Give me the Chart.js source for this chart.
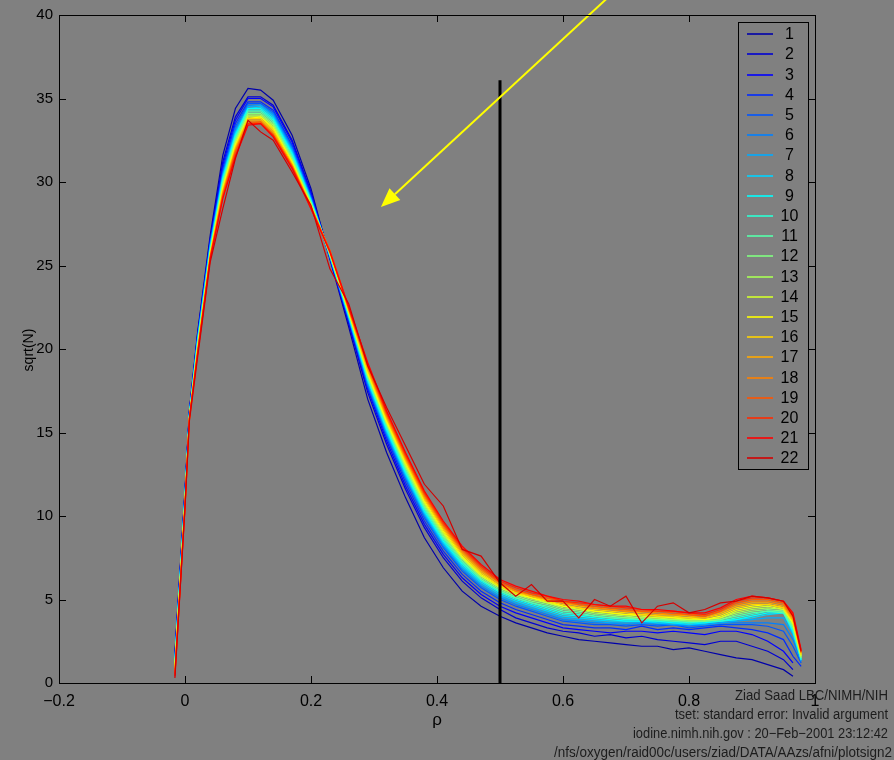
<!DOCTYPE html>
<html>
<head>
<meta charset="utf-8">
<title>sqrt(N) vs rho</title>
<script src="https://cdn.jsdelivr.net/npm/chart.js@4/dist/chart.umd.min.js"></script>
<style>
  html, body { margin: 0; padding: 0; background: #808080; }
  canvas { display: block; }
</style>
</head>
<body>
<canvas id="chart" width="894" height="760"></canvas>
<script>
// rho sample positions shared by every series
const rho = [-0.016, 0, 0.007, 0.02, 0.04, 0.06, 0.08, 0.10, 0.12, 0.14, 0.17, 0.20,
  0.23, 0.26, 0.29, 0.32, 0.35, 0.38, 0.41, 0.44, 0.47, 0.50,
  0.525, 0.55, 0.575, 0.60, 0.625, 0.65, 0.675, 0.70, 0.725, 0.75,
  0.775, 0.80, 0.825, 0.85, 0.875, 0.90, 0.925, 0.95, 0.965, 0.978];

// sqrt(N) per curve
const s01 = [1.8, 11.5, 16.3, 21.0, 26.8, 31.6, 34.4, 35.6, 35.5, 34.9, 32.8, 29.6, 25.4, 21.3, 17.0, 13.8, 11.1, 8.7, 6.9, 5.5, 4.6, 4.0,
  3.6, 3.3, 3.0, 2.8, 2.6, 2.5, 2.4, 2.3, 2.2, 2.2, 2.0, 2.1, 1.9, 1.7, 1.5, 1.4, 1.1, 0.8, 0.4, null];
const s02 = [1.7, 11.5, 16.3, 20.9, 26.6, 31.2, 33.9, 35.1, 35.1, 34.6, 32.5, 29.4, 25.5, 21.5, 17.4, 14.3, 11.6, 9.3, 7.5, 6.1, 5.1, 4.4,
  3.9, 3.6, 3.3, 3.1, 3.0, 2.8, 2.9, 2.7, 2.8, 2.6, 2.5, 2.4, 2.3, 2.5, 2.5, 2.2, 1.9, 1.4, 0.8, null];
const s03 = [1.6, 11.4, 16.2, 20.8, 26.5, 31.0, 33.7, 35.0, 35.0, 34.5, 32.4, 29.3, 25.4, 21.6, 17.6, 14.5, 11.8, 9.5, 7.7, 6.3, 5.3, 4.6,
  4.2, 3.9, 3.6, 3.3, 3.2, 3.1, 3.0, 3.1, 3.1, 3.0, 3.1, 3.0, 2.9, 3.1, 3.1, 2.9, 2.5, 1.9, 1.2, null];
const s04 = [1.5, 11.4, 16.2, 20.7, 26.4, 30.8, 33.5, 34.8, 34.8, 34.3, 32.2, 29.2, 25.5, 21.7, 17.7, 14.7, 12.0, 9.7, 7.9, 6.5, 5.5, 4.8,
  4.4, 4.1, 3.8, 3.5, 3.4, 3.3, 3.3, 3.2, 3.4, 3.2, 3.3, 3.2, 3.3, 3.4, 3.3, 3.2, 3.0, 2.6, 1.6, 1.0];
const s05 = [1.5, 11.3, 16.2, 20.7, 26.3, 30.6, 33.3, 34.7, 34.7, 34.2, 32.1, 29.1, 25.6, 21.8, 17.8, 14.8, 12.2, 9.9, 8.1, 6.7, 5.7, 5.0,
  4.6, 4.3, 4.0, 3.7, 3.6, 3.5, 3.5, 3.4, 3.5, 3.4, 3.5, 3.3, 3.4, 3.5, 3.5, 3.5, 3.4, 3.1, 2.2, 1.2];
const s06 = [1.4, 11.3, 16.1, 20.6, 26.2, 30.5, 33.2, 34.6, 34.6, 34.1, 32.0, 29.0, 25.5, 21.8, 17.9, 14.9, 12.3, 10.0, 8.2, 6.8, 5.8, 5.1,
  4.7, 4.4, 4.1, 3.8, 3.7, 3.6, 3.6, 3.5, 3.6, 3.5, 3.5, 3.4, 3.5, 3.6, 3.6, 3.6, 3.6, 3.5, 2.6, 1.3];
const s07 = [1.3, 11.2, 16.1, 20.5, 26.2, 30.4, 33.0, 34.5, 34.6, 34.0, 31.9, 29.0, 25.6, 21.9, 18.0, 15.0, 12.4, 10.1, 8.3, 6.9, 5.9, 5.2,
  4.8, 4.5, 4.2, 3.9, 3.8, 3.7, 3.6, 3.6, 3.6, 3.6, 3.5, 3.5, 3.5, 3.6, 3.7, 3.8, 3.9, 3.9, 2.9, 1.3];
const s08 = [1.3, 11.2, 16.1, 20.5, 26.1, 30.3, 32.9, 34.4, 34.5, 33.9, 31.8, 28.9, 25.6, 21.9, 18.1, 15.1, 12.5, 10.2, 8.4, 7.0, 6.0, 5.3,
  4.9, 4.6, 4.3, 4.0, 3.9, 3.8, 3.7, 3.7, 3.7, 3.6, 3.6, 3.5, 3.6, 3.7, 3.8, 3.9, 4.1, 4.2, 3.0, 1.4];
const s09 = [1.2, 11.1, 16.0, 20.4, 26.0, 30.2, 32.8, 34.4, 34.4, 33.8, 31.7, 28.9, 25.7, 22.0, 18.2, 15.2, 12.6, 10.3, 8.5, 7.1, 6.1, 5.4,
  5.0, 4.7, 4.4, 4.1, 4.0, 3.9, 3.8, 3.7, 3.7, 3.7, 3.6, 3.6, 3.6, 3.7, 3.8, 4.0, 4.2, 4.2, 3.1, 1.4];
const s10 = [1.2, 11.1, 16.0, 20.3, 25.9, 30.1, 32.7, 34.3, 34.3, 33.7, 31.6, 28.8, 25.6, 22.0, 18.2, 15.3, 12.7, 10.4, 8.6, 7.2, 6.2, 5.5,
  5.1, 4.8, 4.5, 4.2, 4.1, 4.0, 3.9, 3.8, 3.8, 3.7, 3.7, 3.6, 3.7, 3.7, 3.9, 4.1, 4.3, 4.3, 3.2, 1.4];
const s11 = [1.1, 11.0, 16.0, 20.3, 25.9, 30.0, 32.6, 34.2, 34.2, 33.6, 31.5, 28.8, 25.7, 22.1, 18.3, 15.4, 12.8, 10.5, 8.7, 7.3, 6.2, 5.5,
  5.1, 4.8, 4.6, 4.3, 4.2, 4.0, 3.9, 3.9, 3.8, 3.8, 3.7, 3.7, 3.7, 3.8, 4.0, 4.2, 4.3, 4.2, 3.3, 1.5];
const s12 = [1.0, 11.0, 16.0, 20.2, 25.8, 29.9, 32.5, 34.1, 34.1, 33.5, 31.4, 28.7, 25.7, 22.1, 18.4, 15.5, 12.9, 10.6, 8.8, 7.4, 6.3, 5.6,
  5.2, 4.9, 4.7, 4.4, 4.3, 4.1, 4.0, 3.9, 3.9, 3.8, 3.8, 3.7, 3.7, 3.8, 4.1, 4.3, 4.4, 4.3, 3.4, 1.5];
const s13 = [1.0, 10.9, 15.9, 20.1, 25.8, 29.8, 32.4, 34.0, 34.0, 33.4, 31.3, 28.7, 25.8, 22.2, 18.5, 15.6, 13.0, 10.7, 8.9, 7.5, 6.4, 5.7,
  5.3, 5.0, 4.8, 4.5, 4.4, 4.2, 4.1, 4.0, 3.9, 3.9, 3.8, 3.8, 3.8, 3.9, 4.2, 4.4, 4.5, 4.4, 3.5, 1.6];
const s14 = [0.9, 10.9, 15.9, 20.1, 25.7, 29.7, 32.3, 33.9, 33.9, 33.3, 31.2, 28.6, 25.7, 22.2, 18.5, 15.6, 13.1, 10.8, 9.0, 7.5, 6.4, 5.7,
  5.3, 5.1, 4.8, 4.6, 4.4, 4.3, 4.2, 4.1, 4.0, 3.9, 3.9, 3.8, 3.8, 3.9, 4.3, 4.5, 4.6, 4.4, 3.6, 1.6];
const s15 = [0.9, 10.8, 15.9, 20.0, 25.7, 29.6, 32.2, 33.8, 33.9, 33.2, 31.2, 28.6, 25.8, 22.2, 18.6, 15.7, 13.2, 10.9, 9.1, 7.6, 6.5, 5.8,
  5.4, 5.1, 4.9, 4.6, 4.5, 4.3, 4.2, 4.1, 4.1, 4.0, 3.9, 3.9, 3.8, 4.0, 4.4, 4.6, 4.7, 4.5, 3.6, 1.7];
const s16 = [0.8, 10.8, 15.9, 19.9, 25.6, 29.5, 32.1, 33.8, 33.8, 33.1, 31.1, 28.6, 25.8, 22.3, 18.7, 15.8, 13.3, 11.0, 9.2, 7.7, 6.6, 5.8,
  5.4, 5.2, 4.9, 4.7, 4.5, 4.4, 4.3, 4.2, 4.1, 4.0, 4.0, 3.9, 3.9, 4.1, 4.5, 4.7, 4.7, 4.5, 3.7, 1.7];
const s17 = [0.7, 10.7, 15.8, 19.9, 25.6, 29.4, 32.0, 33.7, 33.7, 33.0, 31.0, 28.5, 25.9, 22.3, 18.8, 15.9, 13.4, 11.1, 9.3, 7.8, 6.7, 5.9,
  5.5, 5.2, 5.0, 4.8, 4.6, 4.5, 4.4, 4.3, 4.2, 4.1, 4.1, 4.0, 3.9, 4.2, 4.6, 4.8, 4.8, 4.6, 3.8, 1.8];
const s18 = [0.6, 10.7, 15.8, 19.8, 25.5, 29.3, 31.9, 33.6, 33.6, 32.9, 31.0, 28.5, 25.8, 22.4, 18.9, 16.0, 13.5, 11.2, 9.4, 7.9, 6.8, 6.0,
  5.5, 5.3, 5.0, 4.8, 4.7, 4.5, 4.4, 4.3, 4.3, 4.2, 4.1, 4.1, 4.0, 4.3, 4.7, 4.9, 4.9, 4.7, 3.9, 1.8];
const s19 = [0.6, 10.6, 15.8, 19.8, 25.5, 29.2, 31.8, 33.5, 33.6, 32.8, 30.9, 28.5, 25.9, 22.4, 19.0, 16.1, 13.6, 11.3, 9.5, 8.0, 6.9, 6.0,
  5.6, 5.3, 5.1, 4.9, 4.7, 4.6, 4.5, 4.4, 4.3, 4.3, 4.2, 4.1, 4.0, 4.3, 4.8, 5.0, 5.0, 4.8, 4.0, 1.9];
const s20 = [0.5, 10.6, 15.8, 19.7, 25.4, 29.1, 31.6, 33.5, 33.5, 32.8, 30.9, 28.4, 25.9, 22.5, 19.1, 16.2, 13.7, 11.4, 9.6, 8.1, 7.0, 6.1,
  5.7, 5.4, 5.2, 4.9, 4.8, 4.7, 4.6, 4.5, 4.4, 4.3, 4.3, 4.2, 4.1, 4.4, 4.9, 5.1, 5.1, 4.9, 4.1, 1.9];
const s21 = [0.4, 10.5, 15.9, 19.7, 25.4, 29.0, 31.5, 33.4, 33.5, 32.7, 30.8, 28.4, 25.8, 22.5, 19.2, 16.3, 13.8, 11.5, 9.7, 8.2, 7.1, 6.2,
  5.8, 5.5, 5.2, 5.0, 4.9, 4.7, 4.6, 4.6, 4.4, 4.4, 4.3, 4.2, 4.2, 4.5, 5.0, 5.2, 5.1, 4.9, 4.2, 2.0];
const s22 = [0.3, 10.5, 15.7, 19.5, 25.2, 28.4, 31.4, 33.7, 33.0, 32.5, 30.6, 28.6, 24.8, 22.7, 19.0, 16.5, 14.2, 11.9, 10.6, 8.0, 7.6, 6.0,
  5.2, 5.9, 4.9, 4.9, 3.9, 5.0, 4.6, 5.2, 3.6, 4.6, 4.8, 4.2, 4.4, 4.8, 4.9, 5.2, 5.1, 4.9, 4.0, 1.9];

const curves = [s01, s02, s03, s04, s05, s06, s07, s08, s09, s10, s11,
  s12, s13, s14, s15, s16, s17, s18, s19, s20, s21, s22];
const curveLabels = curves.map((_, i) => String(i + 1));

// matlab jet(22)
const JET = ['#0000aa', '#0000d4', '#0000ff', '#002bff', '#0055ff', '#0080ff',
  '#00aaff', '#00d4ff', '#00ffff', '#2bffd4', '#55ffaa', '#80ff80',
  '#aaff55', '#d4ff2b', '#ffff00', '#ffd400', '#ffaa00', '#ff8000',
  '#ff5500', '#ff2b00', '#ff0000', '#d40000'];

const xTicks = { min: -0.2, max: 1, step: 0.2 };
const yTicks = { min: 0, max: 40, step: 5 };

// overlay annotations, in data units
const markerRho = 0.5;
const markerTop = 36.1;
const arrowFrom = { x: 0.67, y: 41.0 };
const arrowTo = { x: 0.311, y: 28.5 };

const footer = [
  'Ziad Saad LBC/NIMH/NIH',
  'tset: standard error: Invalid argument',
  'iodine.nimh.nih.gov : 20\u2212Feb\u22122001 23:12:42',
  '/nfs/oxygen/raid00c/users/ziad/DATA/AAzs/afni/plotsign2'
];
const footerWidths = [153, 213, 255, 338];

const FONT = '"Liberation Sans", Arial, Helvetica, sans-serif';

function fmt(v) {
  return String(Math.round(v * 10) / 10).replace('-', '\u2212');
}

const backdrop = {
  id: 'backdrop',
  beforeDraw(chart) {
    const ctx = chart.ctx;
    ctx.save();
    ctx.fillStyle = '#808080';
    ctx.fillRect(0, 0, chart.width, chart.height);
    ctx.restore();
  }
};

const overlay = {
  id: 'overlay',
  afterDatasetsDraw(chart) {
    const ctx = chart.ctx;
    const xs = chart.scales.x, ys = chart.scales.y;

    // vertical marker at rho = 0.5
    ctx.save();
    ctx.strokeStyle = '#000';
    ctx.lineWidth = 3;
    const mx = xs.getPixelForValue(markerRho);
    ctx.beginPath();
    ctx.moveTo(mx, ys.getPixelForValue(0));
    ctx.lineTo(mx, ys.getPixelForValue(markerTop));
    ctx.stroke();

    // yellow arrow
    const x0 = xs.getPixelForValue(arrowFrom.x), y0 = ys.getPixelForValue(arrowFrom.y);
    const x1 = xs.getPixelForValue(arrowTo.x), y1 = ys.getPixelForValue(arrowTo.y);
    const len = Math.hypot(x0 - x1, y0 - y1);
    const ux = (x0 - x1) / len, uy = (y0 - y1) / len;
    const headLen = 19, headHalf = 8;
    ctx.strokeStyle = '#ffff00';
    ctx.fillStyle = '#ffff00';
    ctx.lineWidth = 2;
    ctx.beginPath();
    ctx.moveTo(x0, y0);
    ctx.lineTo(x1 + ux * headLen, y1 + uy * headLen);
    ctx.stroke();
    ctx.beginPath();
    ctx.moveTo(x1, y1);
    ctx.lineTo(x1 + ux * headLen - uy * headHalf, y1 + uy * headLen + ux * headHalf);
    ctx.lineTo(x1 + ux * headLen + uy * headHalf, y1 + uy * headLen - ux * headHalf);
    ctx.closePath();
    ctx.fill();
    ctx.restore();
  },
  afterDraw(chart) {
    const ctx = chart.ctx;
    const a = chart.chartArea;
    const xs = chart.scales.x, ys = chart.scales.y;
    ctx.save();

    // axes box
    ctx.strokeStyle = '#000';
    ctx.lineWidth = 1;
    ctx.strokeRect(Math.round(a.left) + 0.5, Math.round(a.top) + 0.5,
      Math.round(a.right - a.left), Math.round(a.bottom - a.top));

    // inward ticks on all four sides
    const tl = 7;
    ctx.beginPath();
    xs.ticks.forEach(t => {
      const px = Math.round(xs.getPixelForValue(t.value)) + 0.5;
      ctx.moveTo(px, a.bottom); ctx.lineTo(px, a.bottom - tl);
      ctx.moveTo(px, a.top); ctx.lineTo(px, a.top + tl);
    });
    ys.ticks.forEach(t => {
      const py = Math.round(ys.getPixelForValue(t.value)) + 0.5;
      ctx.moveTo(a.left, py); ctx.lineTo(a.left + tl, py);
      ctx.moveTo(a.right, py); ctx.lineTo(a.right - tl, py);
    });
    ctx.stroke();

    // axis titles
    ctx.fillStyle = '#000';
    ctx.textAlign = 'center';
    ctx.textBaseline = 'middle';
    ctx.font = '14px ' + FONT;
    ctx.save();
    ctx.translate(29, (a.top + a.bottom) / 2 + 1);
    ctx.rotate(-Math.PI / 2);
    ctx.fillText('sqrt(N)', 0, 0);
    ctx.restore();
    ctx.font = '17px ' + FONT;
    ctx.fillText('\u03c1', 437, 720);

    // legend
    const lx = 738.5, ly = 22.5, lw = 70, lh = 447;
    ctx.fillStyle = '#808080';
    ctx.fillRect(lx, ly, lw, lh);
    ctx.strokeStyle = '#000';
    ctx.strokeRect(lx, ly, lw, lh);
    ctx.font = '16px ' + FONT;
    ctx.lineWidth = 1.6;
    curveLabels.forEach((lab, i) => {
      const y = Math.round(34.3 + i * 20.19);
      ctx.strokeStyle = JET[i];
      ctx.beginPath();
      ctx.moveTo(747, y);
      ctx.lineTo(773, y);
      ctx.stroke();
      ctx.fillStyle = '#000';
      ctx.textAlign = 'center';
      ctx.fillText(lab, 789.5, y + 1);
    });

    // footer notes, right aligned
    ctx.fillStyle = '#1c1c1c';
    ctx.textAlign = 'right';
    ctx.textBaseline = 'alphabetic';
    ctx.font = '14px ' + FONT;
    footer.forEach((txt, i) => {
      const w = ctx.measureText(txt).width;
      ctx.save();
      ctx.translate(i === 3 ? 892 : 888, 700 + i * 19);
      ctx.scale(footerWidths[i] / w, 1);
      ctx.fillText(txt, 0, 0);
      ctx.restore();
    });
    ctx.restore();
  }
};

const datasets = curves.map((vals, i) => ({
  label: curveLabels[i],
  data: rho.map((x, j) => ({ x: x, y: vals[j] })),
  borderColor: JET[i],
  backgroundColor: JET[i],
  borderWidth: 1.2,
  pointRadius: 0,
  tension: 0,
  fill: false,
  spanGaps: false,
  order: curves.length - i   // red curves end up on top
}));

new Chart(document.getElementById('chart').getContext('2d'), {
  type: 'line',
  data: { datasets: datasets },
  options: {
    responsive: false,
    animation: false,
    devicePixelRatio: 1,
    layout: { padding: { top: 13, right: 79, bottom: 0, left: 0 } },
    plugins: {
      legend: { display: false },
      tooltip: { enabled: false }
    },
    scales: {
      x: {
        type: 'linear',
        min: xTicks.min,
        max: xTicks.max,
        grid: { display: false, drawTicks: false },
        border: { display: false },
        ticks: {
          stepSize: xTicks.step,
          autoSkip: false,
          maxRotation: 0,
          padding: 9,
          color: '#000',
          font: { family: FONT, size: 16 },
          callback: v => fmt(v)
        },
        afterFit(s) { s.height = 77; }
      },
      y: {
        type: 'linear',
        min: yTicks.min,
        max: yTicks.max,
        grid: { display: false, drawTicks: false },
        border: { display: false },
        ticks: {
          stepSize: yTicks.step,
          padding: 6,
          color: '#000',
          font: { family: FONT, size: 15 },
          callback: v => fmt(v)
        },
        afterFit(s) { s.width = 59; }
      }
    }
  },
  plugins: [backdrop, overlay]
});
</script>
</body>
</html>
